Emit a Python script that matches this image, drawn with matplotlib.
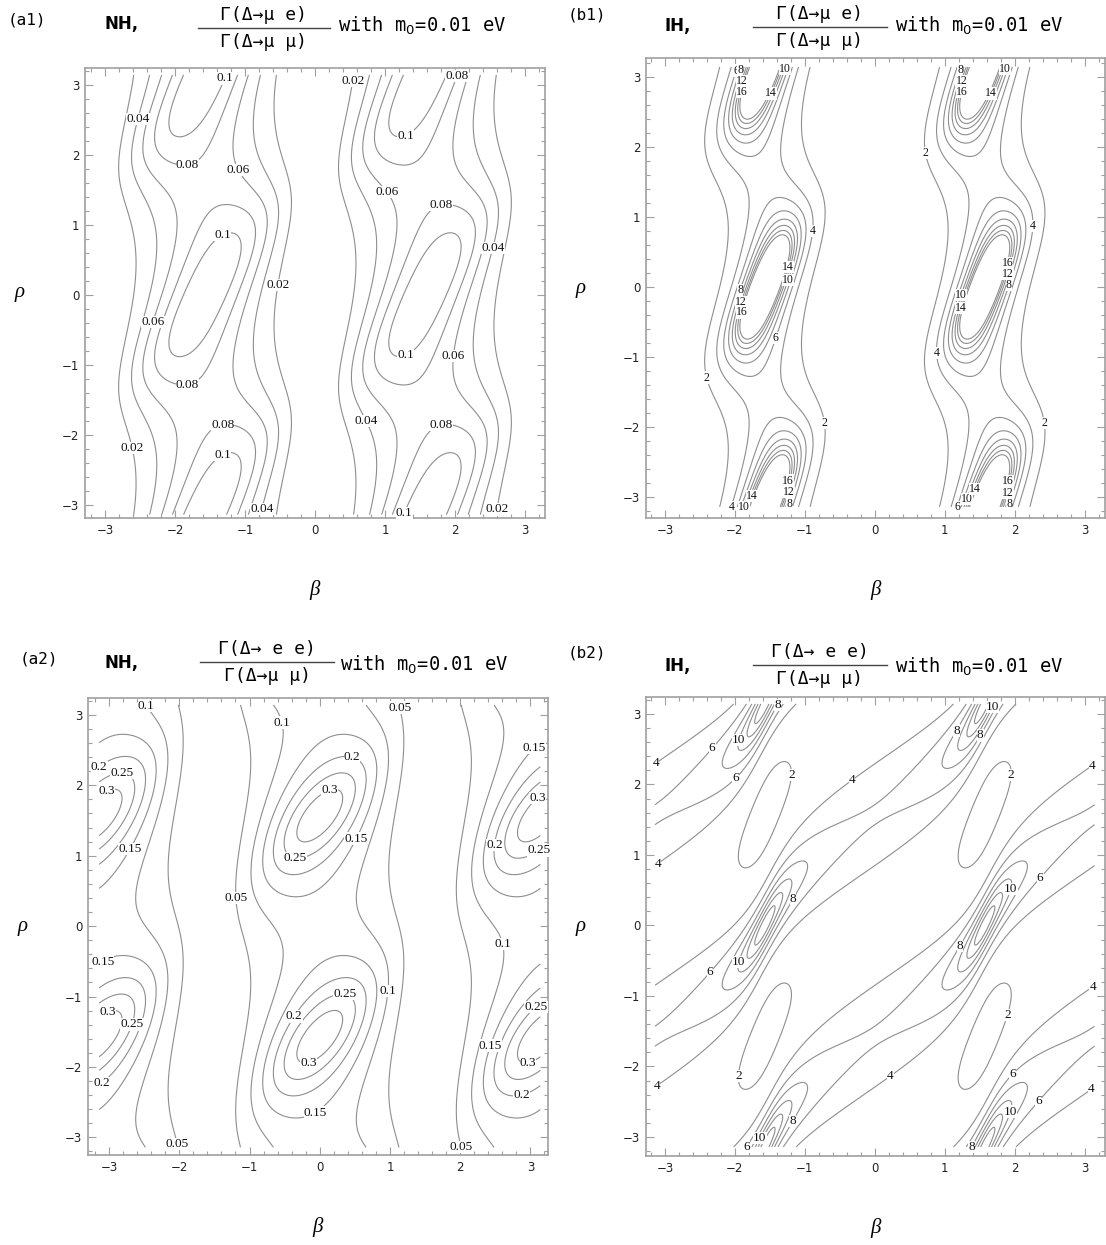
import numpy as np
import matplotlib
matplotlib.use('Agg')
import matplotlib.pyplot as plt
from matplotlib.lines import Line2D
from matplotlib.ticker import MultipleLocator

# ---------------- data / physics parameters ----------------
sin2_theta12 = 0.31
sin2_theta23 = 0.50
dm2_21 = 7.6e-5      # eV^2
dm2_31 = 2.4e-3      # eV^2
m0 = 0.01            # eV, lightest neutrino mass

levels_a1 = [0.02, 0.04, 0.06, 0.08, 0.1]
levels_b1 = [2, 4, 6, 8, 10, 12, 14, 16]
levels_a2 = [0.05, 0.1, 0.15, 0.2, 0.25, 0.3]
levels_b2 = [2, 4, 6, 8, 10, 12, 14]
tick_values = [-3, -2, -1, 0, 1, 2, 3]
tick_labels = ['\u22123', '\u22122', '\u22121', '0', '1', '2', '3']

panel_tags = ['(a1)', '(b1)', '(a2)', '(b2)']
hierarchies = ['NH,', 'IH,', 'NH,', 'IH,']
numerators = ['\u0393(\u0394\u2192\u03bc e)', '\u0393(\u0394\u2192\u03bc e)',
              '\u0393(\u0394\u2192 e e)', '\u0393(\u0394\u2192 e e)']
denominator = '\u0393(\u0394\u2192\u03bc \u03bc)'
mass_text = 'with m$_{0}$=0.01 eV'

# contour labels: (level, beta, rho)
labels_a1 = [(0.1, -1.31, 3.10), (0.04, -2.55, 2.52), (0.08, -1.81, 1.81), (0.06, -1.10, 1.79),
             (0.02, 0.52, 3.06), (0.08, 2.02, 3.13), (0.1, 1.29, 2.29), (0.06, 1.0, 1.45),
             (0.08, 1.79, 1.31), (0.1, -1.31, 0.83), (0.04, 2.52, 0.67), (0.02, -0.55, 0.14),
             (0.06, -2.33, -0.38), (0.1, 1.29, -0.86), (0.06, 2.0, -0.88), (0.08, -1.81, -1.33),
             (0.08, -1.33, -1.83), (0.04, 0.71, -1.81), (0.08, 1.79, -1.83), (0.02, -2.64, -2.19),
             (0.1, -1.31, -2.31), (0.04, -0.76, -3.07), (0.1, 1.29, -3.12), (0.02, 2.62, -3.07)]
labels_b1 = [(6, -2.10, 3.13), (8, -1.92, 3.10), (12, -1.91, 2.94), (16, -1.90, 2.79),
             (10, -1.30, 3.13), (14, -1.45, 2.75), (8, 1.24, 3.10), (12, 1.24, 2.94),
             (16, 1.24, 2.79), (10, 1.84, 3.13), (14, 1.70, 2.75), (2, 0.70, 1.91),
             (4, -0.86, 0.80), (4, 2.31, 0.87), (14, -1.19, 0.27), (10, -1.19, 0.09),
             (16, 1.95, 0.32), (12, 1.95, 0.17), (8, 1.95, 0.02), (8, -1.93, -0.04),
             (12, -1.93, -0.21), (16, -1.90, -0.36), (10, 1.24, -0.11), (14, 1.24, -0.30),
             (6, -1.36, -0.75), (4, 0.88, -0.94), (2, -2.42, -1.30), (2, -0.69, -1.94),
             (2, 2.45, -1.94), (16, -1.19, -2.78), (12, -1.19, -2.94), (8, -1.19, -3.12),
             (16, 1.95, -2.79), (12, 1.95, -2.95), (8, 1.95, -3.12), (4, -2.12, -3.12),
             (10, -1.92, -3.14), (14, -1.80, -2.98), (6, 1.10, -3.14), (10, 1.22, -3.00),
             (14, 1.36, -2.86)]
labels_a2 = [(0.1, -2.53, 3.09), (0.1, -0.52, 2.90), (0.05, 1.08, 3.09), (0.15, 3.07, 2.50),
             (0.2, 0.44, 2.32), (0.2, -3.15, 2.21), (0.25, -2.82, 2.10), (0.3, -2.98, 1.80),
             (0.3, 0.18, 1.80), (0.3, 3.14, 1.77), (0.15, 0.51, 1.25), (0.15, -2.70, 1.10),
             (0.2, 2.50, 1.15), (0.25, 3.10, 1.10), (0.25, -0.35, 1.0), (0.05, -1.15, 0.40),
             (0.1, 2.62, -0.25), (0.15, -3.08, -0.53), (0.1, 0.94, -0.92), (0.25, 0.34, -1.05),
             (0.25, 3.10, -1.18), (0.2, -0.35, -1.30), (0.3, -2.98, -1.33), (0.25, -2.70, -1.38),
             (0.15, 2.43, -1.70), (0.3, -0.18, -1.86), (0.3, 2.95, -1.87), (0.2, -3.10, -2.23),
             (0.2, 2.88, -2.38), (0.15, -0.06, -2.66), (0.05, -2.08, -3.11), (0.05, 2.05, -3.14)]
labels_b2 = [(8, -1.39, 3.13), (10, 1.62, 3.13), (8, 1.75, 2.55), (10, -1.95, 2.63),
             (8, 1.18, 2.75), (6, -2.31, 2.49), (4, -3.12, 2.30), (4, 3.11, 2.27),
             (6, -1.95, 2.06), (2, -1.16, 2.13), (2, 1.98, 2.13), (4, -0.32, 2.06),
             (4, -3.10, 0.86), (6, 2.35, 0.68), (10, 1.97, 0.51), (8, -1.17, 0.37),
             (8, 1.22, -0.29), (10, -1.95, -0.52), (6, -2.34, -0.68), (4, 3.11, -0.87),
             (2, 1.92, -1.28), (2, -1.97, -2.14), (4, 0.22, -2.14), (6, 1.97, -2.10),
             (4, -3.10, -2.30), (4, 3.11, -2.35), (6, 2.35, -2.49), (10, 1.97, -2.65),
             (8, -1.17, -2.78), (6, -1.90, -3.16), (10, -1.62, -3.02), (8, 1.39, -3.16)]

# ---------------- model ----------------
def masses(h):
    if h == 'NH':
        return [m0, np.sqrt(m0**2 + dm2_21), np.sqrt(m0**2 + dm2_31)]
    return [np.sqrt(m0**2 + dm2_31), np.sqrt(m0**2 + dm2_31 + dm2_21), m0]

def ratios(beta, rho, h):
    s12 = np.sqrt(sin2_theta12); c12 = np.sqrt(1 - sin2_theta12)
    s23 = np.sqrt(sin2_theta23); c23 = np.sqrt(1 - sin2_theta23)
    Ue = [c12, s12, 0.0]
    Um = [-s12 * c23, c12 * c23, s23]
    ph = [np.ones_like(beta, dtype=complex), np.exp(2j * beta), np.exp(2j * rho)]
    m = masses(h)
    mee = sum(Ue[i] * Ue[i] * m[i] * ph[i] for i in range(3))
    mem = sum(Ue[i] * Um[i] * m[i] * ph[i] for i in range(3))
    mmm = sum(Um[i] * Um[i] * m[i] * ph[i] for i in range(3))
    return np.abs(mem)**2 / np.abs(mmm)**2, np.abs(mee)**2 / np.abs(mmm)**2

b = np.linspace(-np.pi, np.pi, 501)
B, R = np.meshgrid(b, b)
r_a1, r_a2 = ratios(B, R, 'NH')
r_b1, r_b2 = ratios(B, R, 'IH')

# ---------------- figure ----------------
W, H = 1106, 1245
fig = plt.figure(figsize=(W / 100, H / 100), dpi=100)

def fx(x): return x / W
def fy(y): return 1 - y / H

boxes = [(85, 68, 545, 518), (646, 58, 1105, 518),
         (88, 698, 548, 1155), (646, 697, 1105, 1156)]
xlims = [(-3.286, 3.286), (-3.27, 3.29), (-3.30, 3.25), (-3.27, 3.29)]
ylims = [(-3.19, 3.24), (-3.30, 3.27), (-3.25, 3.24), (-3.27, 3.24)]
fields = [r_a1, r_b1, r_a2, r_b2]
levels = [levels_a1, levels_b1, levels_a2, levels_b2]
label_specs = [labels_a1, labels_b1, labels_a2, labels_b2]
fmts = ['%g', '%d', '%g', '%d']
label_sizes = [9.5, 8.5, 9.5, 9.5]

frame_col = '#a0a0a0'
line_col = '#8e8e8e'
serif = ['Liberation Serif', 'DejaVu Serif']
mono = ['DejaVu Sans Mono', 'DejaVu Sans']


def label_contour(ax, cs, specs, fmt, fs):
    paths = cs.get_paths()
    lev_arr = np.asarray(cs.levels, dtype=float)
    for lev, x, y in specs:
        idx = int(np.argmin(np.abs(lev_arr - lev)))
        p = paths[idx]
        v = p.vertices
        if p.codes is not None:
            v = v[p.codes != 79]
        if len(v) == 0:
            continue
        j = int(np.argmin((v[:, 0] - x) ** 2 + (v[:, 1] - y) ** 2))
        ax.text(v[j, 0], v[j, 1], fmt % lev, ha='center', va='center', fontsize=fs,
                family=serif, color='#111111', zorder=5,
                bbox=dict(facecolor='white', edgecolor='none', pad=0.1))


for k in range(4):
    l, t, r, btm = boxes[k]
    ax = fig.add_axes([fx(l), fy(btm), fx(r) - fx(l), fy(t) - fy(btm)])
    cs = ax.contour(B, R, fields[k], levels=levels[k], colors=line_col, linewidths=0.8)
    label_contour(ax, cs, label_specs[k], fmts[k], label_sizes[k])
    ax.set_xlim(*xlims[k]); ax.set_ylim(*ylims[k])
    ax.set_xticks(tick_values); ax.set_xticklabels(tick_labels)
    ax.set_yticks(tick_values); ax.set_yticklabels(tick_labels)
    ax.xaxis.set_minor_locator(MultipleLocator(0.2))
    ax.yaxis.set_minor_locator(MultipleLocator(0.2))
    ax.tick_params(which='both', direction='in', top=True, right=True, color=frame_col,
                   width=0.8, labelsize=8.5, labelcolor='#222222', pad=4)
    ax.tick_params(which='major', length=6)
    ax.tick_params(which='minor', length=3)
    for sp in ax.spines.values():
        sp.set_color(frame_col); sp.set_linewidth(1.2)

    cx = (l + r) / 2
    cy = (t + btm) / 2
    fig.text(fx(l - 65), fy(cy), '\u03c1', fontsize=15, style='italic', family=serif,
             ha='center', va='center')
    fig.text(fx(cx), fy(btm + 72), '\u03b2', fontsize=15, style='italic', family=serif,
             ha='center', va='center')

# ---------------- titles ----------------
# tag (x,y), hierarchy (x,y), fraction centre x, fraction line y, line x0, x1, mass text (x,y)
title_specs = [
    ((8, 20), (105, 24), 264, 28, 198, 330, (338, 26)),
    ((568, 15), (665, 26), 820, 27, 753, 887, (895, 26)),
    ((20, 659), (105, 663), 267, 662, 200, 334, (340, 665)),
    ((568, 653), (665, 666), 820, 665, 753, 887, (895, 667)),
]
for k, (tag, hier, fcx, ly, lx0, lx1, wpos) in enumerate(title_specs):
    fig.text(fx(tag[0]), fy(tag[1]), panel_tags[k], fontsize=11.5, family=mono,
             ha='left', va='center')
    fig.text(fx(hier[0]), fy(hier[1]), hierarchies[k], fontsize=12, family=['DejaVu Sans'],
             ha='left', va='center', fontweight='bold')
    fig.text(fx(fcx), fy(ly - 13), numerators[k], fontsize=13, family=mono,
             ha='center', va='center')
    fig.text(fx(fcx), fy(ly + 14), denominator, fontsize=13, family=mono,
             ha='center', va='center')
    fig.add_artist(Line2D([fx(lx0), fx(lx1)], [fy(ly), fy(ly)], color='#444444', lw=1.0))
    fig.text(fx(wpos[0]), fy(wpos[1]), mass_text, fontsize=13.5, family=mono,
             ha='left', va='center')

fig.savefig('out.png', dpi=100)
